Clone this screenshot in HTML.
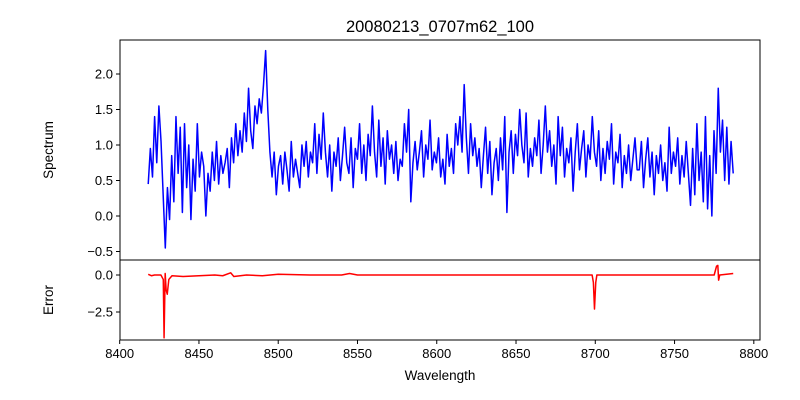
<!DOCTYPE html>
<html><head><meta charset="utf-8"><style>
body{margin:0;background:#fff;}
svg{display:block;font-family:"Liberation Sans","DejaVu Sans",sans-serif;}
</style></head><body>
<svg id="chart" width="800" height="400"></svg>
<script>
const flux = [
0.45,0.95,0.55,1.4,0.75,1.55,1.05,0.3,-0.45,0.4,-0.05,0.85,
0.2,1.4,0.6,1.25,0.05,1.3,0.4,1.0,-0.05,0.8,0.35,1.3,
0.55,0.9,0.7,0.0,0.6,0.35,0.9,0.5,1.05,0.45,0.85,0.6,
0.75,0.95,0.4,1.1,0.75,1.3,
0.85,1.2,0.9,1.45,1.05,1.8,1.2,0.95,1.55,1.3,1.65,1.45,
1.85,2.33,1.5,0.9,0.55,0.9,0.3,0.7,0.85,0.45,0.9,0.65,
0.35,1.05,0.55,0.8,0.6,0.4,1.0,0.7,1.05,0.55,0.9,0.75,
1.3,0.6,1.15,0.8,1.45,0.9,0.55,1.0,0.35,0.9,0.7,1.1,
0.5,0.85,1.25,0.75,0.6,1.1,0.4,0.95,0.8,1.3,0.6,1.0,
0.5,1.15,0.85,1.55,0.9,0.55,1.35,0.7,1.1,0.45,1.2,0.8,
1.0,0.6,1.05,0.5,0.8,0.7,1.3,0.9,1.5,0.2,0.75,1.05,
0.65,0.9,1.2,0.55,1.0,0.8,1.35,0.65,0.9,0.75,1.1,0.55,
0.8,0.45,1.15,0.7,0.95,0.6,1.3,1.0,1.4,0.9,1.85,1.1,
0.6,1.3,0.85,1.1,0.7,0.95,0.4,0.85,1.25,0.6,1.05,0.3,
0.75,0.95,0.5,1.1,0.65,1.4,0.05,0.9,1.2,0.6,1.15,0.85,
1.5,1.0,0.75,1.45,0.55,0.95,0.7,1.1,0.85,1.35,0.6,1.0,
1.55,0.9,1.2,0.7,1.0,0.45,1.4,0.85,1.25,0.55,0.95,0.75,
1.1,0.35,0.9,1.3,0.65,0.95,1.2,0.55,1.0,0.8,1.4,0.9,
0.7,1.2,0.5,0.95,0.6,1.05,0.8,1.3,0.45,0.9,
0.75,1.15,0.4,0.85,0.6,1.0,0.5,0.8,1.1,0.65,
0.65,1.05,0.4,0.8,1.1,0.55,0.9,0.3,0.85,0.6,1.0,0.5,
0.75,0.35,1.25,0.6,0.9,0.7,1.1,0.45,0.85,0.55,1.05,0.6,
0.15,0.95,0.3,1.3,0.5,0.9,0.2,1.4,0.1,0.85,0.0,1.2,
0.6,1.8,0.9,1.35,0.5,1.25,0.45,1.05,0.6];
const waveStart = 8418, waveEnd = 8787;
const errWave = [8418,8420,8422,8426,8427.5,8428,8428.7,8429.3,8430,8431,8433,8440,8450,8460,8465,8470,8472,8480,8490,8500,8520,8540,8545,8550,8600,8650,8698,8698.8,8699.5,8700.3,8701,8730,8760,8775,8776.5,8777.3,8777.8,8778.5,8787];
const errVal = [0.05,-0.05,0.0,0.0,-0.3,-4.25,0.1,-1.0,-1.3,-0.3,-0.05,-0.1,-0.05,0.0,-0.05,0.15,-0.1,0.0,-0.05,0.05,0.0,0.0,0.1,0.0,0.0,0.0,0.0,-0.5,-2.3,-0.5,0.0,0.0,0.0,0.0,0.6,0.65,-0.35,0.0,0.1];
const xTicks = [8400,8450,8500,8550,8600,8650,8700,8750,8800];
const topTicks = [2.0,1.5,1.0,0.5,0.0,-0.5];
const botTicks = [0.0,-2.5];

const svg = document.getElementById('chart');
const NS='http://www.w3.org/2000/svg';
function mk(tag, attrs, parent){const e=document.createElementNS(NS,tag);for(const k in attrs)e.setAttribute(k,attrs[k]);(parent||svg).appendChild(e);return e;}
const L=120,R=760,T1=40,B1=260,T2=260,B2=340;
const xMin=8400.2,xMax=8803.9;
const X=v=>L+(v-xMin)/(xMax-xMin)*(R-L);
const Y1=v=>216-v*71;
const Y2=v=>275-v*14.8;

let d='';
flux.forEach((v,i)=>{const w=waveStart+i*(waveEnd-waveStart)/(flux.length-1);d+=(i?'L':'M')+X(w).toFixed(2)+' '+Y1(v).toFixed(2);});
const sp=mk('path',{d:d,fill:'none',stroke:'#0000ff','stroke-width':1.5,'stroke-linejoin':'round'});


let d2='';
errVal.forEach((v,i)=>{d2+=(i?'L':'M')+X(errWave[i]).toFixed(2)+' '+Y2(v).toFixed(2);});
const ep=mk('path',{d:d2,fill:'none',stroke:'#ff0000','stroke-width':1.5,'stroke-linejoin':'round'});



const f1=mk('rect',{x:L,y:T1,width:R-L,height:B1-T1,fill:'none',stroke:'#000','stroke-width':1});


const f2=mk('rect',{x:L,y:T2,width:R-L,height:B2-T2,fill:'none',stroke:'#000','stroke-width':1});



xTicks.forEach(t=>{const x=X(t);mk('line',{x1:x,x2:x,y1:B2,y2:B2+4,stroke:'#000'});
 const tx=mk('text',{x:x,y:B2+18,'text-anchor':'middle','font-size':13});tx.textContent=t;
 
 });
topTicks.forEach(t=>{const y=Y1(t);mk('line',{x1:L-4,x2:L,y1:y,y2:y,stroke:'#000'});
 const tx=mk('text',{x:L-7,y:y+4.5,'text-anchor':'end','font-size':13});tx.textContent=t.toFixed(1).replace('-','\u2212');
 
 });
botTicks.forEach(t=>{const y=Y2(t);mk('line',{x1:L-4,x2:L,y1:y,y2:y,stroke:'#000'});
 const tx=mk('text',{x:L-7,y:y+4.5,'text-anchor':'end','font-size':13});tx.textContent=t.toFixed(1).replace('-','\u2212');
 
 });
</script>
<div style="position:absolute;left:0;top:0;width:800px;height:400px;pointer-events:none;">
<svg width="800" height="400" style="font-family:'Liberation Sans','DejaVu Sans',sans-serif;">
<text x="440" y="32" text-anchor="middle" font-size="16.5">20080213_0707m62_100</text>
<text x="440" y="380" text-anchor="middle" font-size="13.5">Wavelength</text>
<text transform="translate(53,150) rotate(-90)" text-anchor="middle" font-size="13.5">Spectrum</text>
<text transform="translate(53,300) rotate(-90)" text-anchor="middle" font-size="13.5">Error</text>
</svg></div>
</body></html>
